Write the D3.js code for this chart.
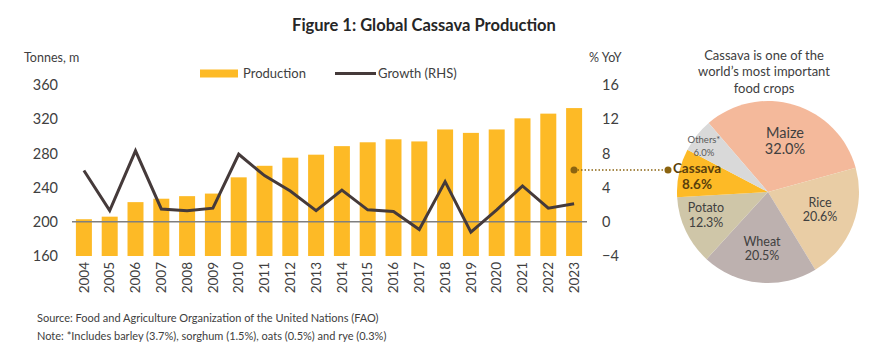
<!DOCTYPE html>
<html><head><meta charset="utf-8">
<script src="https://cdn.jsdelivr.net/npm/d3@7"></script>
<style>body{margin:0;background:#fff;}svg{display:block;font-family:Lato,"Open Sans",sans-serif;}</style>
</head><body>
<script>
const years = ["2004","2005","2006","2007","2008","2009","2010","2011","2012","2013","2014","2015","2016","2017","2018","2019","2020","2021","2022","2023"];
const production = [203,206,223,227,230,233,252,265.5,275,278.5,288.5,293,296.5,294,308,304,308,321,326.5,333];
const growth = [6.0,1.3,8.3,1.5,1.3,1.6,7.9,5.4,3.6,1.3,3.7,1.4,1.2,-0.9,4.7,-1.2,1.4,4.2,1.6,2.1];
const leftTicks = [160,200,240,280,320,360];
const rightTicks = [-4,0,4,8,12,16];
const crops = ["Maize","Rice","Wheat","Potato","Cassava","Others*"];
const shares = [32.0,20.6,20.5,12.3,8.6,6.0];
const cropColors = ["#F4B99B","#E9CDA5","#BDB1AF","#CFC6A8","#FDBA26","#D9D9D9"];

const W=870,H=352;
const svg=d3.select("body").append("svg").attr("width",W).attr("height",H);

svg.append("text").attr("x",424).attr("y",31).attr("text-anchor","middle")
  .attr("font-size",16.5).attr("font-weight","bold").attr("fill","#262626").text("Figure 1: Global Cassava Production");

const x=d3.scaleBand().domain(years).range([71,587]).paddingInner(0.38).paddingOuter(0.19);
const yL=d3.scaleLinear().domain([160,360]).range([256,85]);
const yR=d3.scaleLinear().domain([-4,16]).range([256,85]);

// left axis
const gl=svg.append("g").attr("transform","translate(58,0)").call(d3.axisLeft(yL).tickValues(leftTicks).tickSize(0).tickPadding(0));
gl.select(".domain").remove();
gl.selectAll("text").attr("font-size",14.5).attr("fill","#404040").attr("font-family","Lato,'Open Sans',sans-serif");
const gr=svg.append("g").attr("transform","translate(602,0)").call(d3.axisRight(yR).tickValues(rightTicks).tickSize(0).tickPadding(0));
gr.select(".domain").remove();
gr.selectAll("text").attr("font-size",14.5).attr("fill","#404040").attr("font-family","Lato,'Open Sans',sans-serif");

svg.append("text").attr("x",24).attr("y",62).attr("font-size",12.5).attr("fill","#404040").text("Tonnes, m");
svg.append("text").attr("x",589).attr("y",62).attr("font-size",12.5).attr("fill","#404040").text("% YoY");

// bars
svg.append("g").selectAll("rect").data(production).join("rect")
  .attr("x",(d,i)=>x(years[i])).attr("width",x.bandwidth())
  .attr("y",d=>yL(d)).attr("height",d=>yL(160)-yL(d)).attr("fill","#FDBA26");

// zero line
svg.append("line").attr("x1",72).attr("x2",587).attr("y1",yR(0)).attr("y2",yR(0)).attr("stroke","#7f7f7f").attr("stroke-width",1.5);

// growth line
const line=d3.line().x((d,i)=>x(years[i])+x.bandwidth()/2).y(d=>yR(d));
svg.append("path").datum(growth).attr("d",line).attr("fill","none").attr("stroke","#453a3a").attr("stroke-width",3).attr("stroke-linejoin","miter");

// x labels
const gx=svg.append("g").attr("transform","translate(0,261)").call(d3.axisBottom(x).tickSize(0).tickPadding(0));
gx.select(".domain").remove();
gx.selectAll("text").attr("font-size",13.5).attr("fill","#404040").attr("font-family","Lato,'Open Sans',sans-serif")
  .attr("transform","rotate(-90)").attr("text-anchor","end").attr("dy","0.35em").attr("x",-1).attr("y",0);

// legend
svg.append("rect").attr("x",200).attr("y",69.5).attr("width",38).attr("height",8).attr("fill","#FDBA26");
svg.append("text").attr("x",243).attr("y",78).attr("font-size",13).attr("fill","#404040").text("Production");
svg.append("line").attr("x1",335).attr("x2",376).attr("y1",73.5).attr("y2",73.5).attr("stroke","#453a3a").attr("stroke-width",3);
svg.append("text").attr("x",378).attr("y",78).attr("font-size",13).attr("fill","#404040").text("Growth (RHS)");

// footer
svg.append("text").attr("x",37).attr("y",322).attr("font-size",11).attr("fill","#404040").text("Source: Food and Agriculture Organization of the United Nations (FAO)");
svg.append("text").attr("x",37).attr("y",340).attr("font-size",11).attr("fill","#404040").text("Note: *Includes barley (3.7%), sorghum (1.5%), oats (0.5%) and rye (0.3%)");

// pie title
["Cassava is one of the","world\u2019s most important","food crops"].forEach((t,i)=>{
  svg.append("text").attr("x",764).attr("y",60+i*16.3).attr("text-anchor","middle").attr("font-size",13).attr("fill","#404040").text(t);
});

// pie
const cx=768,cy=192,R=91;
const pie=d3.pie().sort(null).startAngle(-40.7*Math.PI/180).endAngle((360-40.7)*Math.PI/180);
const arcs=pie(shares);
const arc=d3.arc().innerRadius(0).outerRadius(R);
const gp=svg.append("g").attr("transform",`translate(${cx},${cy})`);
gp.selectAll("path").data(arcs).join("path").attr("d",arc).attr("fill",(d,i)=>cropColors[i]);

// pie labels
const labelPos=[[785,133,149,14.5],[820,203,217,12.5],[762,242,256,12.5],[706,208,223,12.5],[697,168.5,184.5,13.5],[704,140,153,9.5]];
crops.forEach((c,i)=>{
  const [lx,y1,y2,fs]=labelPos[i];
  const bold=c==="Cassava";
  const col=bold?"#5a3f0c":(c==="Others*"?"#595959":"#404040");
  svg.append("text").attr("x",lx).attr("y",y1+fs*0.35).attr("text-anchor","middle").attr("font-size",fs).attr("font-weight",bold?"bold":"normal").attr("fill",col).text(c);
  svg.append("text").attr("x",lx).attr("y",y2+fs*0.35).attr("text-anchor","middle").attr("font-size",fs).attr("font-weight",bold?"bold":"normal").attr("fill",col).text(shares[i].toFixed(1)+"%");
});

// connector
svg.append("line").attr("x1",574).attr("x2",668).attr("y1",170).attr("y2",170).attr("stroke","#8B6410").attr("stroke-width",1.5).attr("stroke-dasharray","1.5,2");
svg.append("circle").attr("cx",574).attr("cy",170).attr("r",3.5).attr("fill","#8B6410");
svg.append("circle").attr("cx",668).attr("cy",170).attr("r",3.5).attr("fill","#8B6410");
</script>
</body></html>
